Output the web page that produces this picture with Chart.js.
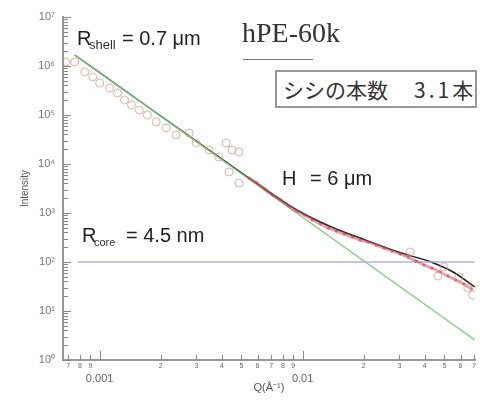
<!DOCTYPE html>
<html><head><meta charset="utf-8">
<script src="https://cdn.jsdelivr.net/npm/chart.js@4"></script>
<style>
html,body{margin:0;padding:0;background:#fff;}
#wrap{position:relative;width:480px;height:403px;overflow:hidden;}
canvas{position:absolute;left:0;top:0;}
.t{position:absolute;font-family:"Liberation Sans",Arial,sans-serif;font-size:20px;line-height:1;color:#222;white-space:nowrap;}
.sub{position:absolute;font-family:"Liberation Sans",Arial,sans-serif;line-height:1;color:#333;white-space:nowrap;}
</style></head><body>
<div id="wrap">
<canvas id="c" width="480" height="403"></canvas>
<div class="t" style="left:77px;top:28px;">R</div>
<div class="sub" style="left:89px;top:38px;font-size:13px;">shell</div>
<div class="t" style="left:122px;top:28px;">= 0.7 μm</div>
<div class="t" style="left:242px;top:19px;font-family:'Liberation Serif','Times New Roman',serif;font-size:28px;color:#333;">hPE-60k</div>
<div style="position:absolute;left:243px;top:59px;width:70px;height:1px;background:#777;"></div>
<div style="position:absolute;left:275px;top:70px;width:202px;height:38px;box-sizing:border-box;border:2px solid #999;background:#fff;font-family:'Noto Sans CJK JP',sans-serif;font-size:21px;line-height:34px;color:#333;white-space:nowrap;">
<span style="position:absolute;left:6px;top:0;">シシの本数</span><span style="position:absolute;left:137px;top:0;letter-spacing:3px;">3.1本</span></div>
<div class="t" style="left:282px;top:168px;">H</div>
<div class="t" style="left:310px;top:168px;">= 6 μm</div>
<div class="t" style="left:82px;top:225px;">R</div>
<div class="sub" style="left:94px;top:237px;font-size:11px;">core</div>
<div class="t" style="left:126px;top:225px;">= 4.5 nm</div>
</div>
<script>
// ---- data ----
const circleQ = [0.000681,0.000754,0.000844,0.000924,0.001,0.00112,0.001226,0.001327,0.001436,0.00157,0.001718,0.0019,0.00213,0.00238,0.00276,0.00299,0.00346,0.00387,0.0042,0.00449,0.00486,0.00434,0.00486,0.03383,0.04642,0.04967,0.05884,0.06512,0.0689];
const circleI = [1.21e6,1.21e6,7.55e5,5.97e5,4.5e5,3.56e5,2.81e5,2.02e5,1.6e5,1.26e5,1.0e5,7.2e4,5.43e4,3.91e4,4.3e4,2.69e4,1.93e4,1.39e4,2.69e4,1.93e4,1.76e4,6870,4090,160,51.8,79.1,49.4,29.5,21.2];
const denseQ = [0.005436,0.00595,0.00651,0.00713,0.0078,0.00854,0.00935,0.01023,0.01119,0.01225,0.01341,0.01468,0.01607,0.01759,0.01924,0.02107,0.02305,0.02523,0.02762,0.03023,0.03308,0.03622,0.03963,0.04339,0.04748,0.05197,0.05688,0.06226,0.06813];
const denseI = [5180,4095,3090,2330,1842,1390,1099,910,720,596,494,429,373,324,281,256,222,193,168,146,126,105,87,75,62.5,51.8,42.9,35.6,28.1];
const modelQ = [0.000754,0.001759,0.003092,0.005436,0.00956,0.01387,0.02036,0.02955,0.0429,0.05623,0.07047];
const modelI = [1.677e6,1.39e5,2.68e4,5180,1099,518,281,160,100,59.6,30.9];
const powerQ = [0.000754,0.07047];
const powerI = [1.677e6,2.56];
const coreQ = [0.00078,0.0705];
const coreI = [100,100];
const xTickValues = [0.0007,0.0008,0.0009,0.001,0.002,0.003,0.004,0.005,0.006,0.007,0.008,0.009,0.01,0.02,0.03,0.04,0.05,0.06,0.07];
const xTickLabels = ['7','8','9','0.001','2','3','4','5','6','7','8','9','0.01','2','3','4','5','6','7'];
const yDecades = [1,10,100,1000,1e4,1e5,1e6,1e7];
const yDecadeLabels = ['10⁰','10¹','10²','10³','10⁴','10⁵','10⁶','10⁷'];
const yMinorMult = [2,3,4,5,6,7,8,9];

const pts = (qs, is) => qs.map((q,i)=>({x:q, y:is[i]}));
const xMajor = v => xTickLabels[xTickValues.indexOf(v)].indexOf('.')>=0;

const yTicks = [];
yDecades.forEach((d,i)=>{ yTicks.push({value:d, major:true, label:yDecadeLabels[i]}); if(i<yDecades.length-1) yMinorMult.forEach(m=>yTicks.push({value:d*m, major:false, label:''})); });

const innerTicks = {
  id:'innerTicks',
  afterDraw(chart){
    const {ctx, chartArea, scales} = chart;
    ctx.save(); ctx.strokeStyle='#888'; ctx.lineWidth=1;
    yTicks.forEach(t=>{
      const py = Math.round(scales.y.getPixelForValue(t.value))+0.5;
      ctx.beginPath(); ctx.moveTo(chartArea.left, py); ctx.lineTo(chartArea.left+(t.major?8:5), py); ctx.stroke();
    });
    xTickValues.forEach(v=>{
      const px = Math.round(scales.x.getPixelForValue(v))+0.5;
      ctx.beginPath(); ctx.moveTo(px, chartArea.bottom); ctx.lineTo(px, chartArea.bottom-(xMajor(v)?9:5)); ctx.stroke();
    });
    ctx.restore();
  }
};

new Chart(document.getElementById('c'), {
  type:'scatter',
  data:{datasets:[
    {label:'data', data:pts(circleQ,circleI), showLine:false, pointStyle:'circle', pointRadius:4, pointBorderWidth:1, pointBorderColor:'rgba(215,150,140,0.75)', pointBackgroundColor:'rgba(0,0,0,0)'},
    {label:'data2', data:pts(denseQ,denseI), showLine:true, borderColor:'rgba(205,70,85,0.5)', borderWidth:3, pointRadius:1.5, pointBorderWidth:0, pointBackgroundColor:'rgba(200,60,75,0.6)'},
    {label:'core', data:pts(coreQ,coreI), showLine:true, borderColor:'rgba(170,170,225,0.9)', borderWidth:1.5, pointRadius:0},
    {label:'power', data:pts(powerQ,powerI), showLine:true, borderColor:'rgba(130,205,130,0.95)', borderWidth:1.5, pointRadius:0},
    {label:'model', data:pts(modelQ,modelI), showLine:true, borderColor:'#222', borderWidth:1.5, pointRadius:0, tension:0.4, cubicInterpolationMode:'monotone'}
  ]},
  options:{
    responsive:false, animation:false,
    layout:{padding:{top:17,right:2,bottom:0,left:0}},
    plugins:{legend:{display:false}, tooltip:{enabled:false}},
    scales:{
      x:{type:'logarithmic', min:0.00066, max:0.0707,
        border:{display:true,color:'#999',width:2},
        grid:{display:false, drawTicks:false},
        afterBuildTicks(s){ s.ticks = xTickValues.map(v=>({value:v})); },
        afterFit(s){ s.height = 43; },
        ticks:{autoSkip:false, maxRotation:0, padding:2, color:'#666',
          font:(c)=>{ const v=c.tick?c.tick.value:0; return (v && xTickValues.indexOf(v)>=0 && xMajor(v)) ? {family:'Liberation Sans',size:11,lineHeight:1} : {family:'Liberation Sans',size:7,lineHeight:1.2}; },
          callback:(v)=>{ const i=xTickValues.indexOf(v); if(i<0) return ''; return xMajor(v)?['',xTickLabels[i]]:xTickLabels[i]; }},
        title:{display:true, text:'Q(Å⁻¹)', color:'#555', font:{family:'Liberation Sans',size:11}, padding:{top:0,bottom:8}}
      },
      y:{type:'logarithmic', min:1, max:1e7,
        border:{display:true,color:'#999',width:2},
        grid:{display:false, drawTicks:false},
        afterBuildTicks(s){ s.ticks = yTicks.map(t=>({value:t.value})); },
        afterFit(s){ s.width = 63; },
        ticks:{autoSkip:false, padding:8, color:'#777', font:{family:'Liberation Sans',size:11},
          callback:(v)=>{ const i=yDecades.indexOf(v); return i>=0?yDecadeLabels[i]:''; }},
        title:{display:true, text:'Intensity', color:'#555', font:{family:'Liberation Sans',size:10}, padding:{top:19,bottom:0}}
      }
    }
  },
  plugins:[innerTicks]
});
</script>
</body></html>
